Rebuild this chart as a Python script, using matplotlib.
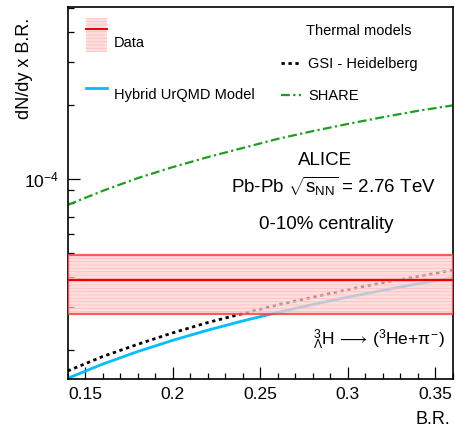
import numpy as np
import matplotlib
matplotlib.use("Agg")
import matplotlib.pyplot as plt
from matplotlib.patches import Patch
from matplotlib.lines import Line2D
from matplotlib.ticker import LogLocator, NullFormatter, MultipleLocator

plt.rcParams['font.family'] = ['Liberation Sans', 'DejaVu Sans']
plt.rcParams['mathtext.fontset'] = 'custom'
plt.rcParams['mathtext.rm'] = 'Liberation Sans'
plt.rcParams['mathtext.it'] = 'Liberation Sans'
plt.rcParams['mathtext.bf'] = 'Liberation Sans:bold'
plt.rcParams['hatch.linewidth'] = 0.6

# branching ratio grid and model curves (dN/dy x B.R.)
br = [0.14, 0.16, 0.18, 0.20, 0.22, 0.24, 0.26, 0.28, 0.30, 0.32, 0.34, 0.36]
gsi = [1.65e-5, 1.89e-5, 2.12e-5, 2.36e-5, 2.60e-5, 2.83e-5,
       3.07e-5, 3.30e-5, 3.54e-5, 3.78e-5, 4.01e-5, 4.25e-5]
urqmd = [1.54e-5, 1.76e-5, 1.98e-5, 2.20e-5, 2.42e-5, 2.64e-5,
         2.86e-5, 3.08e-5, 3.30e-5, 3.52e-5, 3.74e-5, 3.96e-5]
share = [7.85e-5, 8.96e-5, 1.01e-4, 1.12e-4, 1.23e-4, 1.34e-4,
         1.46e-4, 1.57e-4, 1.68e-4, 1.79e-4, 1.90e-4, 2.00e-4]

# measured value with total uncertainty band
data_val = 3.86e-5
data_lo = 2.83e-5
data_hi = 4.89e-5
br_range = [0.14, 0.36]

fig = plt.figure(figsize=(4.56, 4.30), dpi=100)
ax = fig.add_axes([67.7 / 456, 1 - 379 / 430, 385 / 456, 372 / 430])

ax.plot(br, urqmd, color="#00bfff", lw=2.0)
ax.plot(br, gsi, color="black", lw=2.0, linestyle=(0, (1.2, 1.3)))
ax.plot(br, share, color="#1e9e1e", lw=1.6, linestyle=(0, (4, 1.5, 1, 1.5)))

# data band drawn on top, semi-transparent
ax.fill_between(br_range, data_lo, data_hi, facecolor=(1.0, 0.82, 0.82, 0.7),
                edgecolor=(1.0, 0.72, 0.72, 0.8), hatch="-----", lw=0, zorder=3)
ax.fill_between(br_range, data_lo, data_hi, facecolor="none",
                edgecolor=(1.0, 0.25, 0.25, 0.85), lw=1.6, zorder=4)
ax.plot(br_range, [data_val, data_val], color="#ee0000", lw=1.6, zorder=5)

ax.set_yscale("log")
ax.set_xlim(0.14, 0.36)
ax.set_ylim(1.53e-5, 5.04e-4)

ax.xaxis.set_major_locator(MultipleLocator(0.05))
ax.xaxis.set_minor_locator(MultipleLocator(0.01))
ax.xaxis.set_major_formatter(plt.FuncFormatter(lambda v, p: f"{v:g}"))
ax.yaxis.set_major_locator(LogLocator(base=10, numticks=10))
ax.yaxis.set_minor_locator(LogLocator(base=10, subs=np.arange(2, 10), numticks=10))
ax.yaxis.set_minor_formatter(NullFormatter())

ax.tick_params(which="both", direction="in", top=False, right=False, labelsize=12.5, pad=6)
ax.tick_params(which="major", length=8.5, width=0.9)
ax.tick_params(which="minor", length=4.2, width=0.9)
for s in ax.spines.values():
    s.set_linewidth(1.2)

ax.set_xlabel("B.R.", fontsize=13, ha="right", va="top")
ax.xaxis.set_label_coords(0.993, -0.085)
ax.set_ylabel("dN/dy x B.R.", fontsize=13, ha="right")
ax.yaxis.set_label_coords(-0.09, 0.97)

# legends
data_h = (Patch(facecolor=(1.0, 0.82, 0.82, 0.7), edgecolor=(1.0, 0.72, 0.72, 0.8),
                hatch="-----", lw=0),
          Line2D([], [], color="#ee0000", lw=1.4))
urqmd_h = Line2D([], [], color="#00bfff", lw=2.0)
leg1 = ax.legend([data_h, urqmd_h], ["Data", "Hybrid UrQMD Model"], loc="upper left",
                 bbox_to_anchor=(0.0475, 0.970), frameon=False, fontsize=10.5,
                 handlelength=1.45, handleheight=3.2, labelspacing=1.75,
                 handletextpad=0.45, borderpad=0, borderaxespad=0)
# "Data" label sits a bit below the centre of its box, as in the original
leg1.get_texts()[0].set_y(-8)
ax.add_artist(leg1)

gsi_h = Line2D([], [], color="black", lw=2.0, linestyle=(0, (1.2, 1.3)))
share_h = Line2D([], [], color="#1e9e1e", lw=1.6, linestyle=(0, (4, 1.5, 1, 1.5)))
ax.legend([gsi_h, share_h], ["GSI - Heidelberg", "SHARE"], loc="upper left",
          bbox_to_anchor=(0.554, 0.866), frameon=False, fontsize=10.5,
          handlelength=1.4, labelspacing=1.25, handletextpad=0.45,
          borderpad=0, borderaxespad=0)
ax.text(0.619, 0.9355, "Thermal models", transform=ax.transAxes, fontsize=10.5,
        ha="left", va="center")

ax.text(0.668, 0.575, "ALICE", transform=ax.transAxes, fontsize=13.5,
        ha="center", va="baseline")
ax.text(0.690, 0.499, r"Pb-Pb $\sqrt{s_{\rm NN}}$ = 2.76 TeV", transform=ax.transAxes,
        fontsize=13.5, ha="center", va="baseline")
ax.text(0.671, 0.4024, "0-10% centrality", transform=ax.transAxes, fontsize=13.5,
        ha="center", va="baseline")
ax.text(0.980, 0.0914, r"$^{3}_{\Lambda}$H$\,\longrightarrow\,$($^{3}$He+$\pi^{-}$)",
        transform=ax.transAxes, fontsize=12.5, ha="right", va="baseline")

fig.savefig("out.png", dpi=100)
